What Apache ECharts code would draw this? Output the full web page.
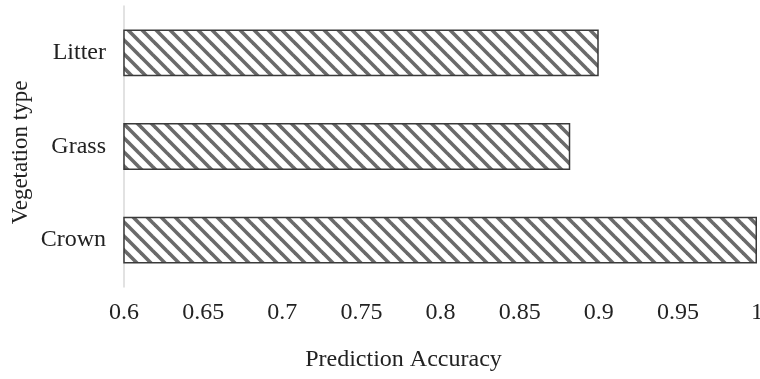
<!DOCTYPE html>
<html>
<head>
<meta charset="utf-8">
<script src="https://cdn.jsdelivr.net/npm/echarts@6/dist/echarts.min.js"></script>
<style>
  html, body { margin: 0; padding: 0; background: #fff; }
  #chart { width: 760px; height: 379px; }
</style>
</head>
<body>
<div id="chart"></div>
<script>
// Vegetation types, listed bottom to top
const categories = ['Crown', 'Grass', 'Litter'];
// Prediction accuracy for each vegetation type
const accuracy = [1.0, 0.882, 0.9];
// Value axis range and step
const axisMin = 0.6;
const axisMax = 1.0;
const axisStep = 0.05;

// Diagonal hatch tile used to fill the bars
function makeHatch() {
  const size = 14;
  const c = document.createElement('canvas');
  c.width = size;
  c.height = size;
  const ctx = c.getContext('2d');
  ctx.fillStyle = '#ffffff';
  ctx.fillRect(0, 0, size, size);
  ctx.strokeStyle = '#6a6a6a';
  ctx.lineWidth = 3.6;
  for (const k of [-size, 0, size]) {
    ctx.beginPath();
    ctx.moveTo(k - 2, -2);
    ctx.lineTo(k + size + 2, size + 2);
    ctx.stroke();
  }
  return c;
}

const font = 'Liberation Serif';
const fs = 24;
const chart = echarts.init(document.getElementById('chart'));
chart.setOption({
  animation: false,
  grid: { left: 124, right: 3, top: 6, bottom: 92, containLabel: false, outerBoundsMode: 'none' },
  xAxis: {
    type: 'value',
    min: axisMin,
    max: axisMax,
    interval: axisStep,
    name: 'Prediction Accuracy',
    nameLocation: 'middle',
    nameGap: 61,
    nameMoveOverlap: false,
    nameTextStyle: { fontFamily: font, fontSize: fs, color: '#222', padding: [0, 74, 0, 0] },
    axisLine: { show: false },
    axisTick: { show: false },
    splitLine: { show: false },
    axisLabel: { fontFamily: font, fontSize: fs, color: '#222', margin: 14 }
  },
  yAxis: {
    type: 'category',
    data: categories,
    name: 'Vegetation type',
    nameLocation: 'middle',
    nameGap: 92,
    nameMoveOverlap: false,
    nameRotate: 90,
    nameTextStyle: { fontFamily: font, fontSize: 23, color: '#222', padding: [0, 12, 0, 0] },
    axisLine: { show: true, lineStyle: { color: '#d9d9d9', width: 1.5 } },
    axisTick: { show: false },
    axisLabel: { fontFamily: font, fontSize: fs, color: '#222', margin: 18 }
  },
  series: [{
    type: 'bar',
    data: accuracy,
    barCategoryGap: '50%',
    itemStyle: {
      color: { image: makeHatch(), repeat: 'repeat' },
      borderColor: '#3a3a3a',
      borderWidth: 1.5
    }
  }]
});
</script>
</body>
</html>
